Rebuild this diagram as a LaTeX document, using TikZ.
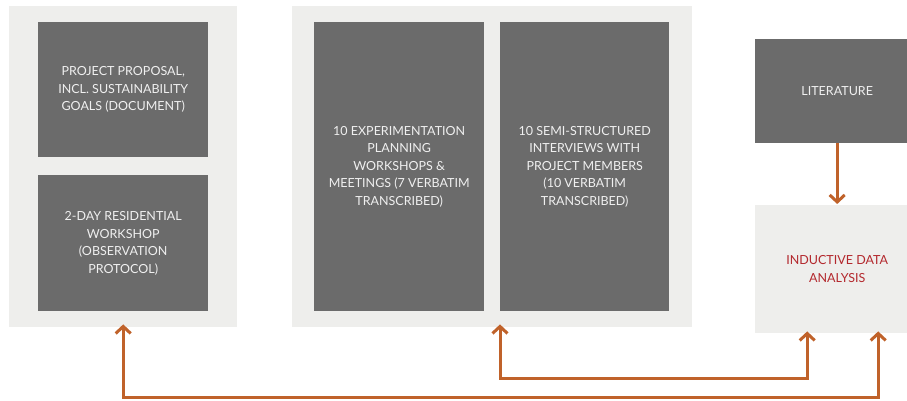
\documentclass[tikz,border=0pt]{standalone}
\usepackage{fontspec}
\setmainfont{Lato}
\usetikzlibrary{arrows.meta,calc}
\definecolor{panelgray}{HTML}{EEEEEC}
\definecolor{boxgray}{HTML}{6B6B6B}
\definecolor{arrorange}{HTML}{C0622A}
\definecolor{textred}{HTML}{B3282D}
\definecolor{lighttext}{HTML}{F0F0F0}
\tikzset{
  panel/.style={fill=panelgray, draw=none, anchor=north west, inner sep=0pt},
  boxfont/.style={font=\fontsize{12.5pt}{17.5pt}\selectfont},
  darkbox/.style={fill=boxgray, draw=none, anchor=north west, inner sep=0pt, text=lighttext,
    align=center, boxfont},
  barb/.tip={Straight Barb[length=7pt,width=15pt,line width=3pt]},
  arr/.style={draw=arrorange, line width=3pt, barb-barb},
  arrone/.style={draw=arrorange, line width=3pt, -barb},
}
\begin{document}
\begin{tikzpicture}[x=1pt,y=-1pt]
\clip (0,0) rectangle (907,401);
\fill[white] (0,0) rectangle (907,401);
% panels
\node[panel, minimum width=228pt, minimum height=321pt] (leftpanel) at (9,6) {};
\node[panel, minimum width=400pt, minimum height=321pt] (midpanel) at (292,6) {};
% left boxes
\node[darkbox, minimum width=170pt, minimum height=135pt] (proposal) at (38,22)
  {PROJECT PROPOSAL,\\INCL. SUSTAINABILITY\\GOALS (DOCUMENT)};
\node[darkbox, minimum width=170pt, minimum height=136pt] (workshop) at (38,175)
  {2-DAY RESIDENTIAL\\WORKSHOP\\(OBSERVATION\\PROTOCOL)};
% middle boxes
\node[darkbox, minimum width=170pt, minimum height=289pt] (planning) at (314,22)
  {10 EXPERIMENTATION\\PLANNING\\WORKSHOPS \&\\MEETINGS (7 VERBATIM\\TRANSCRIBED)};
\node[darkbox, minimum width=169pt, minimum height=289pt] (interviews) at (500,22)
  {10 SEMI-STRUCTURED\\INTERVIEWS WITH\\PROJECT MEMBERS\\(10 VERBATIM\\TRANSCRIBED)};
% right
\node[darkbox, minimum width=164pt, minimum height=104pt] (literature) at (755,39)
  {LITERATURE};
\node[panel, minimum width=164pt, minimum height=128pt, text=textred, align=center,
  boxfont] (analysis) at (755,205)
  {INDUCTIVE DATA\\ANALYSIS};
% connectors
\draw[arrone, shorten >=1pt] (literature.south) -- (analysis.north);
\coordinate (low) at (0,397);
\coordinate (mid) at (0,378);
\draw[arr, shorten <=-3pt, shorten >=-2pt] (leftpanel.south) -- (leftpanel.south |- low)
  -- ($(analysis.south |- low)+(41,0)$) -- ($(analysis.south)+(41,0)$);
\draw[arr, shorten <=-3pt, shorten >=-2pt] (interviews.west |- midpanel.south) -- (interviews.west |- mid)
  -- ($(analysis.south |- mid)+(-30,0)$) -- ($(analysis.south)+(-30,0)$);
\end{tikzpicture}
\end{document}
